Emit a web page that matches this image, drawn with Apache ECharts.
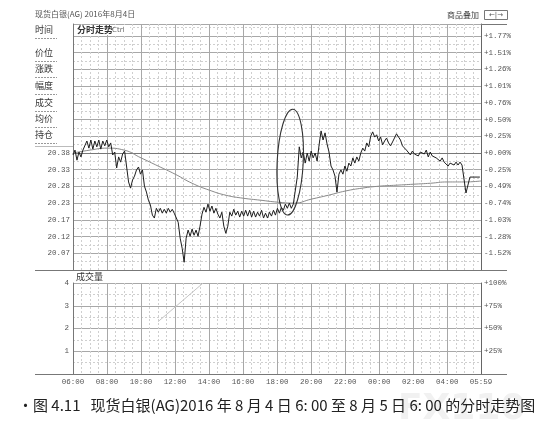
<!DOCTYPE html>
<html><head><meta charset="utf-8">
<script src="https://cdn.jsdelivr.net/npm/echarts@6/dist/echarts.min.js"></script>
<style>html,body{margin:0;padding:0;background:#fff}#c{width:555px;height:442px}</style>
</head><body><div id="c"></div>
<script>
// ---- data ----
const basePrice = 20.38;          // previous close (0.00%)
const stepPct = 0.2522;           // % per grid step
const sampleStartTime = '06:00';
const sampleStepMinutes = 7;
const priceValues = [
 20.374,20.389,20.358,20.383,20.368,20.389,20.383,20.417,20.395,20.420,
 20.392,20.417,20.399,20.420,20.392,20.417,20.402,20.420,20.399,20.411,
 20.374,20.383,20.334,20.368,20.352,20.377,20.386,20.389,20.291,20.272,
 20.297,20.309,20.328,20.337,20.315,20.328,20.278,20.260,20.235,20.220,
 20.189,20.180,20.210,20.198,20.210,20.195,20.207,20.195,20.210,20.198,
 20.207,20.195,20.201,20.167,20.118,20.087,20.044,20.118,20.143,20.124,
 20.146,20.127,20.143,20.124,20.155,20.192,20.213,20.198,20.223,20.201,
 20.217,20.195,20.210,20.192,20.180,20.198,20.155,20.133,20.155,20.198,
 20.186,20.207,20.189,20.201,20.183,20.201,20.186,20.204,20.186,20.204,
 20.183,20.201,20.183,20.198,20.186,20.204,20.180,20.195,20.180,20.198,
 20.186,20.204,20.189,20.210,20.195,20.213,20.204,20.223,20.210,20.226,
 20.210,20.223,20.226,20.306,20.399,20.365,20.383,20.349,20.380,20.355,
 20.386,20.365,20.380,20.355,20.405,20.448,20.420,20.442,20.408,20.383,
 20.340,20.328,20.309,20.260,20.315,20.328,20.315,20.340,20.324,20.349,
 20.340,20.365,20.349,20.368,20.355,20.380,20.395,20.386,20.411,20.399,
 20.432,20.445,20.429,20.436,20.417,20.429,20.405,20.417,20.426,20.411,
 20.402,20.414,20.420,20.439,20.436,20.420,20.402,20.408,20.389,20.392,
 20.374,20.386,20.377,20.383,20.371,20.383,20.386,20.377,20.389,20.368,
 20.383,20.371,20.377,20.365,20.371,20.355,20.365,20.352,20.358,20.340,
 20.349,20.355,20.343,20.352,20.343,20.352,20.343,20.346,20.257,20.257,
 20.306,20.306,20.306,20.306,20.306,20.306
];
const avgTimes = ['06:00','07:00','08:00','09:00','10:00','11:00','12:00','13:00','14:00','15:00','16:00','17:00','18:00','19:00','20:00','21:00','22:00','23:00','00:00','01:00','02:00','03:00','04:00','05:00','05:59'];
const avgValues = [20.380,20.389,20.395,20.389,20.365,20.340,20.315,20.287,20.266,20.250,20.241,20.235,20.229,20.226,20.238,20.250,20.263,20.272,20.278,20.281,20.284,20.287,20.291,20.291,20.294];
const volLineTimes = ['11:00','13:39'];
const volLineValues = [2.3, 4.0];
const xTickLabels = ['06:00','08:00','10:00','12:00','14:00','16:00','18:00','20:00','22:00','00:00','02:00','04:00','05:59'];
const leftPriceLabels = ['20.38','20.33','20.28','20.23','20.17','20.12','20.07'];
const rightPctLabels = ['+1.77%','+1.51%','+1.26%','+1.01%','+0.76%','+0.50%','+0.25%','+0.00%','-0.25%','-0.49%','-0.74%','-1.03%','-1.28%','-1.52%'];
const volLeftLabels = ['1','2','3','4'];
const volRightLabels = ['+25%','+50%','+75%','+100%'];
const menuItems = ['时间','价位','涨跌','幅度','成交','均价','持仓'];
const titleText = '现货白银(AG) 2016年8月4日';
const captionText = '•图 4.11   现货白银(AG)2016 年 8 月 4 日 6: 00 至 8 月 5 日 6: 00 的分时走势图';
const ellipseCenter = {time:'18:46', price:20.352};
const ellipseHalf = {minutes:46, price:0.163};

// ---- helpers ----
const toMin = t => { const [h,m] = t.split(':').map(Number); let v = h*60+m-360; if (v < 0) v += 1440; return v; };
const toStep = p => (p/basePrice - 1)*100/stepPct;
const t0 = toMin(sampleStartTime);
const priceData = priceValues.map((p,i)=>[t0 + i*sampleStepMinutes, toStep(p)]);
const avgData = avgTimes.map((t,i)=>[toMin(t), toStep(avgValues[i])]);
const volLineData = volLineTimes.map((t,i)=>[toMin(t), volLineValues[i]]);

const numFont = 'Liberation Mono';
const major = {lineStyle:{color:'#a8a8a8', width:1}};
const minor = {lineStyle:{color:'#cfcfcf', width:1, type:[2,2]}};
const xFmt = v => { if (v === 1439) return xTickLabels[xTickLabels.length-1]; const k = v/120; return (Number.isInteger(k) && k < xTickLabels.length-1) ? xTickLabels[k] : ''; };

const chart = echarts.init(document.getElementById('c'));
const baseX = (gi, labels) => ({
  type:'value', gridIndex:gi, min:0, max:1439, interval:120,
  axisLine:{show:true, lineStyle:{color:'#777'}}, axisTick:{show:false},
  axisLabel:{show:labels, formatter:xFmt, fontFamily:numFont, fontSize:7.5, color:'#555', margin:4, showMaxLabel:true, showMinLabel:true},
  splitLine:Object.assign({show:true}, major),
  minorTick:{show:false, splitNumber:4},
  minorSplitLine:Object.assign({show:true}, minor)
});
chart.setOption({
  animation:false,
  backgroundColor:'#ffffff',
  grid:[{left:73, right:74, top:24, height:246}, {left:73, right:74, top:283, height:91}],
  xAxis:[baseX(0,false), baseX(1,true)],
  yAxis:[
    {type:'value', gridIndex:0, position:'left', min:-7, max:7.72, interval:1,
     axisLine:{show:true, lineStyle:{color:'#777'}}, axisTick:{show:false},
     axisLabel:{fontFamily:numFont, fontSize:7.5, color:'#555', margin:3,
       formatter:v => (Number.isInteger(v) && v <= 0 && v >= -6) ? leftPriceLabels[-v] : ''},
     splitLine:Object.assign({show:true}, major),
     minorTick:{show:false, splitNumber:2}, minorSplitLine:Object.assign({show:true}, minor)},
    {type:'value', gridIndex:0, position:'right', min:-7, max:7.72, interval:1,
     axisLine:{show:true, lineStyle:{color:'#666'}}, axisTick:{show:false},
     axisLabel:{fontFamily:numFont, fontSize:7.5, color:'#555', margin:3,
       formatter:v => (Number.isInteger(v) && v <= 7 && v >= -6) ? rightPctLabels[7-v] : ''},
     splitLine:{show:false}},
    {type:'value', gridIndex:1, position:'left', min:0, max:4, interval:1,
     axisLine:{show:true, lineStyle:{color:'#777'}}, axisTick:{show:false},
     axisLabel:{fontFamily:numFont, fontSize:7.5, color:'#555', margin:4,
       formatter:v => (Number.isInteger(v) && v >= 1) ? volLeftLabels[v-1] : ''},
     splitLine:Object.assign({show:true}, major),
     minorTick:{show:false, splitNumber:2}, minorSplitLine:Object.assign({show:true}, minor)},
    {type:'value', gridIndex:1, position:'right', min:0, max:4, interval:1,
     axisLine:{show:true, lineStyle:{color:'#666'}}, axisTick:{show:false},
     axisLabel:{fontFamily:numFont, fontSize:7.5, color:'#555', margin:3,
       formatter:v => (Number.isInteger(v) && v >= 1) ? volRightLabels[v-1] : ''},
     splitLine:{show:false}}
  ],
  series:[
    {type:'line', xAxisIndex:0, yAxisIndex:0, data:avgData, smooth:true, showSymbol:false, lineStyle:{color:'#8a8a8a', width:1}, z:3},
    {type:'line', xAxisIndex:0, yAxisIndex:0, data:priceData, showSymbol:false, lineStyle:{color:'#1e1e1e', width:1}, z:4},
    {type:'line', xAxisIndex:1, yAxisIndex:2, data:volLineData, showSymbol:false, lineStyle:{color:'#c4c4c4', width:1}, z:3}
  ]
});

// ---- annotations / chrome ----
const T = (x, y, s, o) => ({type:'text', x, y, z:10, style:Object.assign({text:s, fill:'#444', font:'9px "Noto Sans CJK SC"', verticalAlign:'middle', textVerticalAlign:'middle'}, o||{})});
const L = (x1, y1, x2, y2, o) => ({type:'line', z:9, shape:{x1, y1, x2, y2}, style:Object.assign({stroke:'#777', lineWidth:1}, o||{})});
const G = [];
G.push(T(35, 14, titleText, {font:'8px "Noto Sans CJK SC"', fill:'#555'}));
G.push(T(447, 15, '商品叠加', {font:'8px "Noto Sans CJK SC"', fill:'#444'}));
G.push({type:'rect', z:10, shape:{x:484.5, y:10.5, width:23, height:9}, style:{fill:'#fff', stroke:'#777', lineWidth:1}});
G.push(T(496, 15, '←|→', {font:'7px "DejaVu Sans"', fill:'#555', textAlign:'center', align:'center'}));
G.push(L(481, 24.5, 507, 24.5));
G.push(L(35, 270.5, 507, 270.5));
G.push(L(35, 374.5, 507, 374.5));
G.push(L(35, 146.5, 73, 146.5, {stroke:'#bbb'}));
menuItems.forEach((m, i) => {
  const yy = [30, 53, 69, 86, 103, 119, 135][i];
  G.push(T(35, yy, m, {font:'9px "Noto Sans CJK SC"', fill:'#333'}));
  G.push(L(35, yy + 8.5, 57, yy + 8.5, {stroke:'#999', lineDash:[2,1]}));
});
G.push({type:'rect', z:9, shape:{x:74, y:25, width:56, height:10}, style:{fill:'#fff'}});
G.push(T(77, 30, '分时走势', {font:'bold 9px "Noto Sans CJK SC"', fill:'#333'}));
G.push(T(112, 30, 'Ctrl', {font:'7px "DejaVu Sans"', fill:'#666'}));
G.push({type:'rect', z:9, shape:{x:74, y:271, width:406, height:11.5}, style:{fill:'#fff'}});
G.push(T(76, 277, '成交量', {font:'9px "Noto Sans CJK SC"', fill:'#333'}));
// ellipse positioned through the chart's own scales
const c = chart.convertToPixel({xAxisIndex:0, yAxisIndex:0}, [toMin(ellipseCenter.time), toStep(ellipseCenter.price)]);
const e = chart.convertToPixel({xAxisIndex:0, yAxisIndex:0}, [toMin(ellipseCenter.time) + ellipseHalf.minutes, toStep(ellipseCenter.price + ellipseHalf.price)]);
G.push({type:'ellipse', z:8, x:c[0], y:c[1], rotation:-0.05, shape:{cx:0, cy:0, rx:Math.abs(e[0]-c[0]), ry:Math.abs(e[1]-c[1])}, style:{fill:'none', stroke:'#333', lineWidth:1.1}});
const wm = T(398, 410, 'FX110', {font:'bold 36px "DejaVu Sans"', fill:'#f1f1f1'});
wm.z = -1;
G.push(wm);
G.push(T(18, 405, captionText, {font:'15px "Noto Sans CJK SC"', fill:'#222'}));
chart.setOption({graphic:G});
</script></body></html>
